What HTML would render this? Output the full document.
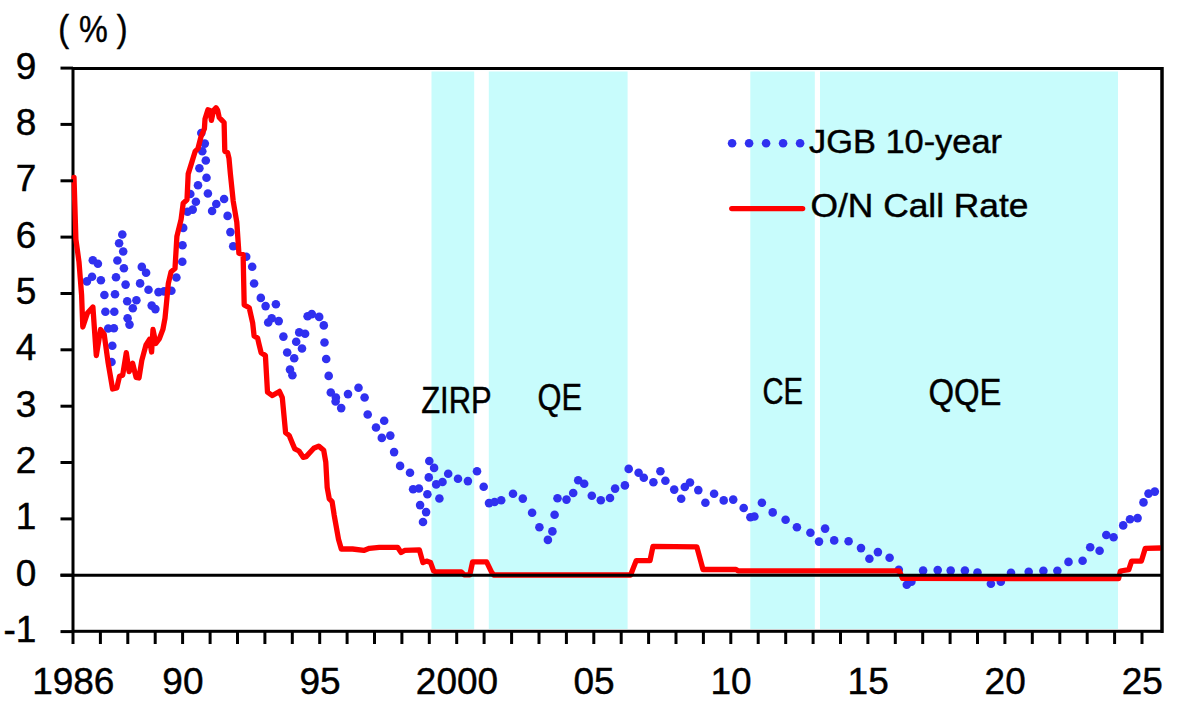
<!DOCTYPE html>
<html><head><meta charset="utf-8"><style>
html,body{margin:0;padding:0;background:#fff;width:1177px;height:710px;overflow:hidden;}
svg{display:block;}
text{font-family:"Liberation Sans",sans-serif;fill:#000;stroke:#000;stroke-width:0.45px;}
</style></head><body>
<svg width="1177" height="710" viewBox="0 0 1177 710"><rect x="431.5" y="71.5" width="42.7" height="557.5" fill="#c8fcfc"/>
<rect x="488.8" y="71.5" width="138.8" height="557.5" fill="#c8fcfc"/>
<rect x="750.3" y="71.5" width="64.5" height="557.5" fill="#c8fcfc"/>
<rect x="820.0" y="71.5" width="298.0" height="557.5" fill="#c8fcfc"/>
<rect x="73" y="68.5" width="1089" height="562.8" fill="none" stroke="#000" stroke-width="3"/>
<circle cx="86.9" cy="281.4" r="4.3" fill="#3030f0"/>
<circle cx="92.0" cy="276.8" r="4.3" fill="#3030f0"/>
<circle cx="92.8" cy="260.3" r="4.3" fill="#3030f0"/>
<circle cx="97.9" cy="263.7" r="4.3" fill="#3030f0"/>
<circle cx="100.9" cy="280.2" r="4.3" fill="#3030f0"/>
<circle cx="104.4" cy="295.0" r="4.3" fill="#3030f0"/>
<circle cx="105.4" cy="311.8" r="4.3" fill="#3030f0"/>
<circle cx="108.2" cy="328.5" r="4.3" fill="#3030f0"/>
<circle cx="112.3" cy="345.8" r="4.3" fill="#3030f0"/>
<circle cx="111.5" cy="362.0" r="4.3" fill="#3030f0"/>
<circle cx="113.9" cy="328.2" r="4.3" fill="#3030f0"/>
<circle cx="114.3" cy="311.8" r="4.3" fill="#3030f0"/>
<circle cx="115.0" cy="294.2" r="4.3" fill="#3030f0"/>
<circle cx="116.0" cy="277.3" r="4.3" fill="#3030f0"/>
<circle cx="117.4" cy="260.5" r="4.3" fill="#3030f0"/>
<circle cx="119.1" cy="243.2" r="4.3" fill="#3030f0"/>
<circle cx="122.3" cy="234.5" r="4.3" fill="#3030f0"/>
<circle cx="123.2" cy="251.5" r="4.3" fill="#3030f0"/>
<circle cx="123.9" cy="268.3" r="4.3" fill="#3030f0"/>
<circle cx="125.6" cy="284.6" r="4.3" fill="#3030f0"/>
<circle cx="127.2" cy="301.3" r="4.3" fill="#3030f0"/>
<circle cx="127.6" cy="318.3" r="4.3" fill="#3030f0"/>
<circle cx="129.5" cy="324.6" r="4.3" fill="#3030f0"/>
<circle cx="132.8" cy="308.3" r="4.3" fill="#3030f0"/>
<circle cx="136.4" cy="300.2" r="4.3" fill="#3030f0"/>
<circle cx="140.1" cy="283.4" r="4.3" fill="#3030f0"/>
<circle cx="141.8" cy="266.9" r="4.3" fill="#3030f0"/>
<circle cx="146.1" cy="272.8" r="4.3" fill="#3030f0"/>
<circle cx="148.5" cy="289.8" r="4.3" fill="#3030f0"/>
<circle cx="151.7" cy="305.6" r="4.3" fill="#3030f0"/>
<circle cx="155.4" cy="309.1" r="4.3" fill="#3030f0"/>
<circle cx="158.5" cy="292.1" r="4.3" fill="#3030f0"/>
<circle cx="164.1" cy="291.4" r="4.3" fill="#3030f0"/>
<circle cx="171.4" cy="290.7" r="4.3" fill="#3030f0"/>
<circle cx="176.4" cy="277.5" r="4.3" fill="#3030f0"/>
<circle cx="182.3" cy="261.8" r="4.3" fill="#3030f0"/>
<circle cx="182.5" cy="245.2" r="4.3" fill="#3030f0"/>
<circle cx="183.2" cy="227.9" r="4.3" fill="#3030f0"/>
<circle cx="187.5" cy="211.7" r="4.3" fill="#3030f0"/>
<circle cx="192.7" cy="209.6" r="4.3" fill="#3030f0"/>
<circle cx="195.9" cy="201.8" r="4.3" fill="#3030f0"/>
<circle cx="190.3" cy="194.0" r="4.3" fill="#3030f0"/>
<circle cx="198.0" cy="185.3" r="4.3" fill="#3030f0"/>
<circle cx="206.5" cy="177.8" r="4.3" fill="#3030f0"/>
<circle cx="199.4" cy="168.2" r="4.3" fill="#3030f0"/>
<circle cx="205.8" cy="160.5" r="4.3" fill="#3030f0"/>
<circle cx="202.3" cy="151.3" r="4.3" fill="#3030f0"/>
<circle cx="204.8" cy="143.6" r="4.3" fill="#3030f0"/>
<circle cx="201.3" cy="133.0" r="4.3" fill="#3030f0"/>
<circle cx="207.9" cy="193.5" r="4.3" fill="#3030f0"/>
<circle cx="212.1" cy="211.0" r="4.3" fill="#3030f0"/>
<circle cx="216.3" cy="204.0" r="4.3" fill="#3030f0"/>
<circle cx="224.1" cy="199.0" r="4.3" fill="#3030f0"/>
<circle cx="227.6" cy="215.9" r="4.3" fill="#3030f0"/>
<circle cx="230.4" cy="232.1" r="4.3" fill="#3030f0"/>
<circle cx="233.2" cy="246.3" r="4.3" fill="#3030f0"/>
<circle cx="246.2" cy="256.8" r="4.3" fill="#3030f0"/>
<circle cx="252.2" cy="266.8" r="4.3" fill="#3030f0"/>
<circle cx="254.1" cy="283.5" r="4.3" fill="#3030f0"/>
<circle cx="260.8" cy="297.9" r="4.3" fill="#3030f0"/>
<circle cx="265.6" cy="306.1" r="4.3" fill="#3030f0"/>
<circle cx="275.9" cy="304.2" r="4.3" fill="#3030f0"/>
<circle cx="271.7" cy="318.3" r="4.3" fill="#3030f0"/>
<circle cx="268.2" cy="322.5" r="4.3" fill="#3030f0"/>
<circle cx="278.7" cy="321.1" r="4.3" fill="#3030f0"/>
<circle cx="283.4" cy="336.6" r="4.3" fill="#3030f0"/>
<circle cx="299.2" cy="332.4" r="4.3" fill="#3030f0"/>
<circle cx="305.1" cy="333.8" r="4.3" fill="#3030f0"/>
<circle cx="296.2" cy="341.8" r="4.3" fill="#3030f0"/>
<circle cx="302.0" cy="348.5" r="4.3" fill="#3030f0"/>
<circle cx="287.2" cy="352.5" r="4.3" fill="#3030f0"/>
<circle cx="307.6" cy="316.2" r="4.3" fill="#3030f0"/>
<circle cx="311.8" cy="314.1" r="4.3" fill="#3030f0"/>
<circle cx="319.2" cy="316.9" r="4.3" fill="#3030f0"/>
<circle cx="323.8" cy="325.4" r="4.3" fill="#3030f0"/>
<circle cx="324.5" cy="342.5" r="4.3" fill="#3030f0"/>
<circle cx="294.2" cy="358.3" r="4.3" fill="#3030f0"/>
<circle cx="290.0" cy="369.6" r="4.3" fill="#3030f0"/>
<circle cx="292.4" cy="375.2" r="4.3" fill="#3030f0"/>
<circle cx="326.2" cy="359.0" r="4.3" fill="#3030f0"/>
<circle cx="328.7" cy="375.9" r="4.3" fill="#3030f0"/>
<circle cx="330.8" cy="392.5" r="4.3" fill="#3030f0"/>
<circle cx="335.9" cy="397.6" r="4.3" fill="#3030f0"/>
<circle cx="335.6" cy="401.5" r="4.3" fill="#3030f0"/>
<circle cx="341.2" cy="408.1" r="4.3" fill="#3030f0"/>
<circle cx="348.0" cy="394.1" r="4.3" fill="#3030f0"/>
<circle cx="358.5" cy="387.7" r="4.3" fill="#3030f0"/>
<circle cx="364.6" cy="397.5" r="4.3" fill="#3030f0"/>
<circle cx="367.7" cy="414.5" r="4.3" fill="#3030f0"/>
<circle cx="384.2" cy="420.8" r="4.3" fill="#3030f0"/>
<circle cx="376.0" cy="427.5" r="4.3" fill="#3030f0"/>
<circle cx="381.8" cy="437.9" r="4.3" fill="#3030f0"/>
<circle cx="390.3" cy="435.6" r="4.3" fill="#3030f0"/>
<circle cx="394.1" cy="452.1" r="4.3" fill="#3030f0"/>
<circle cx="400.1" cy="465.9" r="4.3" fill="#3030f0"/>
<circle cx="410.0" cy="472.7" r="4.3" fill="#3030f0"/>
<circle cx="429.3" cy="461.0" r="4.3" fill="#3030f0"/>
<circle cx="428.8" cy="477.4" r="4.3" fill="#3030f0"/>
<circle cx="413.1" cy="489.2" r="4.3" fill="#3030f0"/>
<circle cx="418.9" cy="488.5" r="4.3" fill="#3030f0"/>
<circle cx="427.4" cy="494.3" r="4.3" fill="#3030f0"/>
<circle cx="420.1" cy="505.1" r="4.3" fill="#3030f0"/>
<circle cx="426.1" cy="512.1" r="4.3" fill="#3030f0"/>
<circle cx="423.0" cy="522.0" r="4.3" fill="#3030f0"/>
<circle cx="434.1" cy="467.9" r="4.3" fill="#3030f0"/>
<circle cx="439.4" cy="498.5" r="4.3" fill="#3030f0"/>
<circle cx="436.2" cy="484.4" r="4.3" fill="#3030f0"/>
<circle cx="442.5" cy="482.0" r="4.3" fill="#3030f0"/>
<circle cx="448.2" cy="473.8" r="4.3" fill="#3030f0"/>
<circle cx="458.0" cy="478.7" r="4.3" fill="#3030f0"/>
<circle cx="467.9" cy="481.1" r="4.3" fill="#3030f0"/>
<circle cx="477.0" cy="471.3" r="4.3" fill="#3030f0"/>
<circle cx="483.7" cy="486.8" r="4.3" fill="#3030f0"/>
<circle cx="489.0" cy="503.1" r="4.3" fill="#3030f0"/>
<circle cx="494.6" cy="502.0" r="4.3" fill="#3030f0"/>
<circle cx="501.2" cy="500.2" r="4.3" fill="#3030f0"/>
<circle cx="513.0" cy="493.7" r="4.3" fill="#3030f0"/>
<circle cx="522.8" cy="498.6" r="4.3" fill="#3030f0"/>
<circle cx="532.1" cy="512.7" r="4.3" fill="#3030f0"/>
<circle cx="539.4" cy="527.2" r="4.3" fill="#3030f0"/>
<circle cx="547.9" cy="539.9" r="4.3" fill="#3030f0"/>
<circle cx="552.4" cy="531.4" r="4.3" fill="#3030f0"/>
<circle cx="554.6" cy="514.8" r="4.3" fill="#3030f0"/>
<circle cx="557.5" cy="498.2" r="4.3" fill="#3030f0"/>
<circle cx="566.5" cy="499.6" r="4.3" fill="#3030f0"/>
<circle cx="573.2" cy="493.0" r="4.3" fill="#3030f0"/>
<circle cx="578.2" cy="480.3" r="4.3" fill="#3030f0"/>
<circle cx="584.2" cy="483.8" r="4.3" fill="#3030f0"/>
<circle cx="591.8" cy="495.7" r="4.3" fill="#3030f0"/>
<circle cx="600.8" cy="500.2" r="4.3" fill="#3030f0"/>
<circle cx="610.0" cy="498.0" r="4.3" fill="#3030f0"/>
<circle cx="615.1" cy="488.6" r="4.3" fill="#3030f0"/>
<circle cx="624.9" cy="485.4" r="4.3" fill="#3030f0"/>
<circle cx="628.7" cy="468.9" r="4.3" fill="#3030f0"/>
<circle cx="638.6" cy="472.7" r="4.3" fill="#3030f0"/>
<circle cx="643.8" cy="477.7" r="4.3" fill="#3030f0"/>
<circle cx="653.4" cy="482.3" r="4.3" fill="#3030f0"/>
<circle cx="660.4" cy="471.3" r="4.3" fill="#3030f0"/>
<circle cx="665.4" cy="480.8" r="4.3" fill="#3030f0"/>
<circle cx="674.2" cy="489.6" r="4.3" fill="#3030f0"/>
<circle cx="681.2" cy="498.8" r="4.3" fill="#3030f0"/>
<circle cx="684.8" cy="487.0" r="4.3" fill="#3030f0"/>
<circle cx="690.0" cy="482.5" r="4.3" fill="#3030f0"/>
<circle cx="698.3" cy="490.1" r="4.3" fill="#3030f0"/>
<circle cx="705.4" cy="502.8" r="4.3" fill="#3030f0"/>
<circle cx="714.1" cy="493.7" r="4.3" fill="#3030f0"/>
<circle cx="723.7" cy="500.4" r="4.3" fill="#3030f0"/>
<circle cx="733.2" cy="499.6" r="4.3" fill="#3030f0"/>
<circle cx="743.7" cy="508.0" r="4.3" fill="#3030f0"/>
<circle cx="750.4" cy="517.3" r="4.3" fill="#3030f0"/>
<circle cx="754.4" cy="516.5" r="4.3" fill="#3030f0"/>
<circle cx="761.9" cy="502.8" r="4.3" fill="#3030f0"/>
<circle cx="772.7" cy="512.4" r="4.3" fill="#3030f0"/>
<circle cx="785.6" cy="519.7" r="4.3" fill="#3030f0"/>
<circle cx="796.9" cy="527.2" r="4.3" fill="#3030f0"/>
<circle cx="810.4" cy="532.8" r="4.3" fill="#3030f0"/>
<circle cx="819.0" cy="541.6" r="4.3" fill="#3030f0"/>
<circle cx="825.1" cy="528.6" r="4.3" fill="#3030f0"/>
<circle cx="834.2" cy="540.4" r="4.3" fill="#3030f0"/>
<circle cx="848.6" cy="541.3" r="4.3" fill="#3030f0"/>
<circle cx="861.0" cy="548.1" r="4.3" fill="#3030f0"/>
<circle cx="869.4" cy="558.7" r="4.3" fill="#3030f0"/>
<circle cx="877.9" cy="552.1" r="4.3" fill="#3030f0"/>
<circle cx="889.6" cy="557.8" r="4.3" fill="#3030f0"/>
<circle cx="898.8" cy="569.8" r="4.3" fill="#3030f0"/>
<circle cx="906.8" cy="584.7" r="4.3" fill="#3030f0"/>
<circle cx="911.4" cy="581.8" r="4.3" fill="#3030f0"/>
<circle cx="923.1" cy="570.6" r="4.3" fill="#3030f0"/>
<circle cx="937.7" cy="570.1" r="4.3" fill="#3030f0"/>
<circle cx="950.7" cy="570.6" r="4.3" fill="#3030f0"/>
<circle cx="964.9" cy="570.6" r="4.3" fill="#3030f0"/>
<circle cx="977.5" cy="572.6" r="4.3" fill="#3030f0"/>
<circle cx="990.9" cy="583.8" r="4.3" fill="#3030f0"/>
<circle cx="1000.8" cy="581.7" r="4.3" fill="#3030f0"/>
<circle cx="1011.0" cy="572.8" r="4.3" fill="#3030f0"/>
<circle cx="1028.7" cy="571.8" r="4.3" fill="#3030f0"/>
<circle cx="1043.4" cy="570.7" r="4.3" fill="#3030f0"/>
<circle cx="1057.4" cy="570.7" r="4.3" fill="#3030f0"/>
<circle cx="1068.5" cy="561.9" r="4.3" fill="#3030f0"/>
<circle cx="1082.6" cy="560.7" r="4.3" fill="#3030f0"/>
<circle cx="1090.2" cy="547.2" r="4.3" fill="#3030f0"/>
<circle cx="1099.6" cy="550.8" r="4.3" fill="#3030f0"/>
<circle cx="1106.3" cy="535.0" r="4.3" fill="#3030f0"/>
<circle cx="1113.6" cy="537.2" r="4.3" fill="#3030f0"/>
<circle cx="1123.2" cy="525.4" r="4.3" fill="#3030f0"/>
<circle cx="1130.0" cy="519.3" r="4.3" fill="#3030f0"/>
<circle cx="1137.6" cy="518.1" r="4.3" fill="#3030f0"/>
<circle cx="1143.5" cy="502.4" r="4.3" fill="#3030f0"/>
<circle cx="1148.5" cy="493.6" r="4.3" fill="#3030f0"/>
<circle cx="1154.8" cy="491.6" r="4.3" fill="#3030f0"/>
<polyline points="74.0,177.4 75.9,239.4 79.0,262.0 81.6,295.0 82.8,327.0 87.3,313.3 92.9,307.0 96.3,355.6 100.6,329.5 104.2,334.4 108.0,362.0 112.6,389.0 116.8,388.0 119.5,376.3 122.7,375.2 126.3,352.7 129.1,371.7 132.6,363.2 136.1,377.3 139.0,378.0 141.8,360.4 146.0,344.9 149.5,339.3 151.6,352.0 153.0,329.4 155.8,343.5 159.4,338.6 162.9,329.4 165.0,318.2 166.4,304.1 168.3,283.7 171.1,271.7 175.0,268.5 176.9,236.3 181.1,219.4 183.2,203.2 187.0,199.7 188.2,173.9 191.7,162.6 195.2,151.3 198.0,148.5 200.8,137.3 204.4,128.8 205.0,119.0 207.9,109.8 210.0,110.5 211.4,120.4 213.5,110.5 216.0,107.7 217.7,110.5 219.2,117.5 222.0,120.4 224.1,122.5 224.8,151.3 227.6,152.7 229.0,158.4 230.4,173.9 233.2,201.1 236.8,222.3 238.9,253.2 243.1,254.6 244.2,304.9 249.2,307.7 252.7,323.2 254.1,335.9 257.6,338.0 259.0,344.2 261.1,352.7 265.4,355.5 267.5,392.1 272.4,395.6 279.4,391.4 282.3,397.7 285.6,432.7 289.2,435.5 292.7,444.0 294.8,448.9 299.0,451.0 303.2,457.3 306.1,456.6 313.8,448.2 318.7,446.1 323.7,450.3 325.8,462.3 327.2,487.6 329.3,498.9 332.1,501.7 334.2,515.2 338.5,539.2 341.3,549.0 352.5,549.0 363.8,550.4 369.4,548.3 379.3,547.3 397.6,547.3 401.1,552.5 404.6,550.4 419.4,549.9 422.9,562.6 426.5,561.1 430.6,562.6 433.6,570.8 435.7,571.8 461.2,571.8 464.2,574.9 469.8,574.9 472.6,561.9 486.6,561.9 491.7,572.3 493.8,575.0 630.6,575.0 636.2,560.6 650.0,560.6 653.0,546.3 696.8,546.8 703.0,569.5 736.0,569.5 738.0,570.8 899.3,570.8 902.5,578.4 1118.6,578.6 1120.4,571.0 1128.8,569.6 1131.6,561.1 1141.4,561.1 1145.3,548.3 1160.4,548.0" fill="none" stroke="#ff0000" stroke-width="5.3" stroke-linejoin="round" stroke-linecap="round"/>
<line x1="60.5" y1="575.2" x2="1162" y2="575.2" stroke="#000" stroke-width="3"/>
<line x1="1162" y1="67" x2="1162" y2="632.9" stroke="#000" stroke-width="3"/>
<line x1="60.5" y1="631.6" x2="73" y2="631.6" stroke="#000" stroke-width="3"/>
<line x1="60.5" y1="575.2" x2="73" y2="575.2" stroke="#000" stroke-width="3"/>
<line x1="60.5" y1="518.9" x2="73" y2="518.9" stroke="#000" stroke-width="3"/>
<line x1="60.5" y1="462.5" x2="73" y2="462.5" stroke="#000" stroke-width="3"/>
<line x1="60.5" y1="406.2" x2="73" y2="406.2" stroke="#000" stroke-width="3"/>
<line x1="60.5" y1="349.8" x2="73" y2="349.8" stroke="#000" stroke-width="3"/>
<line x1="60.5" y1="293.5" x2="73" y2="293.5" stroke="#000" stroke-width="3"/>
<line x1="60.5" y1="237.1" x2="73" y2="237.1" stroke="#000" stroke-width="3"/>
<line x1="60.5" y1="180.8" x2="73" y2="180.8" stroke="#000" stroke-width="3"/>
<line x1="60.5" y1="124.4" x2="73" y2="124.4" stroke="#000" stroke-width="3"/>
<line x1="60.5" y1="68.1" x2="73" y2="68.1" stroke="#000" stroke-width="3"/>
<line x1="73.0" y1="631.5" x2="73.0" y2="644" stroke="#000" stroke-width="3"/>
<line x1="100.4" y1="631.5" x2="100.4" y2="644" stroke="#000" stroke-width="3"/>
<line x1="127.8" y1="631.5" x2="127.8" y2="644" stroke="#000" stroke-width="3"/>
<line x1="155.2" y1="631.5" x2="155.2" y2="644" stroke="#000" stroke-width="3"/>
<line x1="182.6" y1="631.5" x2="182.6" y2="644" stroke="#000" stroke-width="3"/>
<line x1="210.1" y1="631.5" x2="210.1" y2="644" stroke="#000" stroke-width="3"/>
<line x1="237.5" y1="631.5" x2="237.5" y2="644" stroke="#000" stroke-width="3"/>
<line x1="264.9" y1="631.5" x2="264.9" y2="644" stroke="#000" stroke-width="3"/>
<line x1="292.3" y1="631.5" x2="292.3" y2="644" stroke="#000" stroke-width="3"/>
<line x1="319.7" y1="631.5" x2="319.7" y2="644" stroke="#000" stroke-width="3"/>
<line x1="347.1" y1="631.5" x2="347.1" y2="644" stroke="#000" stroke-width="3"/>
<line x1="374.5" y1="631.5" x2="374.5" y2="644" stroke="#000" stroke-width="3"/>
<line x1="401.9" y1="631.5" x2="401.9" y2="644" stroke="#000" stroke-width="3"/>
<line x1="429.3" y1="631.5" x2="429.3" y2="644" stroke="#000" stroke-width="3"/>
<line x1="456.7" y1="631.5" x2="456.7" y2="644" stroke="#000" stroke-width="3"/>
<line x1="484.1" y1="631.5" x2="484.1" y2="644" stroke="#000" stroke-width="3"/>
<line x1="511.6" y1="631.5" x2="511.6" y2="644" stroke="#000" stroke-width="3"/>
<line x1="539.0" y1="631.5" x2="539.0" y2="644" stroke="#000" stroke-width="3"/>
<line x1="566.4" y1="631.5" x2="566.4" y2="644" stroke="#000" stroke-width="3"/>
<line x1="593.8" y1="631.5" x2="593.8" y2="644" stroke="#000" stroke-width="3"/>
<line x1="621.2" y1="631.5" x2="621.2" y2="644" stroke="#000" stroke-width="3"/>
<line x1="648.6" y1="631.5" x2="648.6" y2="644" stroke="#000" stroke-width="3"/>
<line x1="676.0" y1="631.5" x2="676.0" y2="644" stroke="#000" stroke-width="3"/>
<line x1="703.4" y1="631.5" x2="703.4" y2="644" stroke="#000" stroke-width="3"/>
<line x1="730.8" y1="631.5" x2="730.8" y2="644" stroke="#000" stroke-width="3"/>
<line x1="758.2" y1="631.5" x2="758.2" y2="644" stroke="#000" stroke-width="3"/>
<line x1="785.7" y1="631.5" x2="785.7" y2="644" stroke="#000" stroke-width="3"/>
<line x1="813.1" y1="631.5" x2="813.1" y2="644" stroke="#000" stroke-width="3"/>
<line x1="840.5" y1="631.5" x2="840.5" y2="644" stroke="#000" stroke-width="3"/>
<line x1="867.9" y1="631.5" x2="867.9" y2="644" stroke="#000" stroke-width="3"/>
<line x1="895.3" y1="631.5" x2="895.3" y2="644" stroke="#000" stroke-width="3"/>
<line x1="922.7" y1="631.5" x2="922.7" y2="644" stroke="#000" stroke-width="3"/>
<line x1="950.1" y1="631.5" x2="950.1" y2="644" stroke="#000" stroke-width="3"/>
<line x1="977.5" y1="631.5" x2="977.5" y2="644" stroke="#000" stroke-width="3"/>
<line x1="1004.9" y1="631.5" x2="1004.9" y2="644" stroke="#000" stroke-width="3"/>
<line x1="1032.3" y1="631.5" x2="1032.3" y2="644" stroke="#000" stroke-width="3"/>
<line x1="1059.8" y1="631.5" x2="1059.8" y2="644" stroke="#000" stroke-width="3"/>
<line x1="1087.2" y1="631.5" x2="1087.2" y2="644" stroke="#000" stroke-width="3"/>
<line x1="1114.6" y1="631.5" x2="1114.6" y2="644" stroke="#000" stroke-width="3"/>
<line x1="1142.0" y1="631.5" x2="1142.0" y2="644" stroke="#000" stroke-width="3"/>
<text x="36.3" y="642.1" font-family="Liberation Sans, sans-serif" font-size="37" text-anchor="end">-1</text>
<text x="36.3" y="585.7" font-family="Liberation Sans, sans-serif" font-size="37" text-anchor="end">0</text>
<text x="36.3" y="529.4" font-family="Liberation Sans, sans-serif" font-size="37" text-anchor="end">1</text>
<text x="36.3" y="473.0" font-family="Liberation Sans, sans-serif" font-size="37" text-anchor="end">2</text>
<text x="36.3" y="416.7" font-family="Liberation Sans, sans-serif" font-size="37" text-anchor="end">3</text>
<text x="36.3" y="360.3" font-family="Liberation Sans, sans-serif" font-size="37" text-anchor="end">4</text>
<text x="36.3" y="304.0" font-family="Liberation Sans, sans-serif" font-size="37" text-anchor="end">5</text>
<text x="36.3" y="247.6" font-family="Liberation Sans, sans-serif" font-size="37" text-anchor="end">6</text>
<text x="36.3" y="191.3" font-family="Liberation Sans, sans-serif" font-size="37" text-anchor="end">7</text>
<text x="36.3" y="134.9" font-family="Liberation Sans, sans-serif" font-size="37" text-anchor="end">8</text>
<text x="36.3" y="78.6" font-family="Liberation Sans, sans-serif" font-size="37" text-anchor="end">9</text>
<text x="73.3" y="694.1" font-family="Liberation Sans, sans-serif" font-size="37" text-anchor="middle">1986</text>
<text x="182.9" y="694.1" font-family="Liberation Sans, sans-serif" font-size="37" text-anchor="middle">90</text>
<text x="320.0" y="694.1" font-family="Liberation Sans, sans-serif" font-size="37" text-anchor="middle">95</text>
<text x="457.0" y="694.1" font-family="Liberation Sans, sans-serif" font-size="37" text-anchor="middle">2000</text>
<text x="594.1" y="694.1" font-family="Liberation Sans, sans-serif" font-size="37" text-anchor="middle">05</text>
<text x="731.1" y="694.1" font-family="Liberation Sans, sans-serif" font-size="37" text-anchor="middle">10</text>
<text x="868.2" y="694.1" font-family="Liberation Sans, sans-serif" font-size="37" text-anchor="middle">15</text>
<text x="1005.2" y="694.1" font-family="Liberation Sans, sans-serif" font-size="37" text-anchor="middle">20</text>
<text x="1142.3" y="694.1" font-family="Liberation Sans, sans-serif" font-size="37" text-anchor="middle">25</text>
<text x="58.2" y="40.5" font-family="Liberation Sans, sans-serif" font-size="36.5" textLength="10.8" lengthAdjust="spacingAndGlyphs">(</text>
<text x="78.9" y="42.2" font-family="Liberation Sans, sans-serif" font-size="36.5" textLength="28.8" lengthAdjust="spacingAndGlyphs">%</text>
<text x="116.8" y="40.5" font-family="Liberation Sans, sans-serif" font-size="36.5" textLength="10.8" lengthAdjust="spacingAndGlyphs">)</text>
<text x="421.2" y="413.4" font-family="Liberation Sans, sans-serif" font-size="36" textLength="70.5" lengthAdjust="spacingAndGlyphs">ZIRP</text>
<text x="537.5" y="410" font-family="Liberation Sans, sans-serif" font-size="37" textLength="44.5" lengthAdjust="spacingAndGlyphs">QE</text>
<text x="762.5" y="403.8" font-family="Liberation Sans, sans-serif" font-size="37" textLength="40.5" lengthAdjust="spacingAndGlyphs">CE</text>
<text x="928.5" y="405.4" font-family="Liberation Sans, sans-serif" font-size="37" textLength="73" lengthAdjust="spacingAndGlyphs">QQE</text>
<circle cx="732.1" cy="143.3" r="4.3" fill="#3030f0"/>
<circle cx="749.1" cy="143.3" r="4.3" fill="#3030f0"/>
<circle cx="766.1" cy="143.3" r="4.3" fill="#3030f0"/>
<circle cx="783.1" cy="143.3" r="4.3" fill="#3030f0"/>
<circle cx="800.1" cy="143.3" r="4.3" fill="#3030f0"/>
<line x1="731.8" y1="208.6" x2="802.6" y2="208.6" stroke="#ff0000" stroke-width="5.4" stroke-linecap="round"/>
<text x="809" y="153.2" font-family="Liberation Sans, sans-serif" font-size="33" textLength="193" lengthAdjust="spacingAndGlyphs">JGB 10-year</text>
<text x="810.5" y="217.4" font-family="Liberation Sans, sans-serif" font-size="33" textLength="218" lengthAdjust="spacingAndGlyphs">O/N Call Rate</text></svg>
</body></html>
